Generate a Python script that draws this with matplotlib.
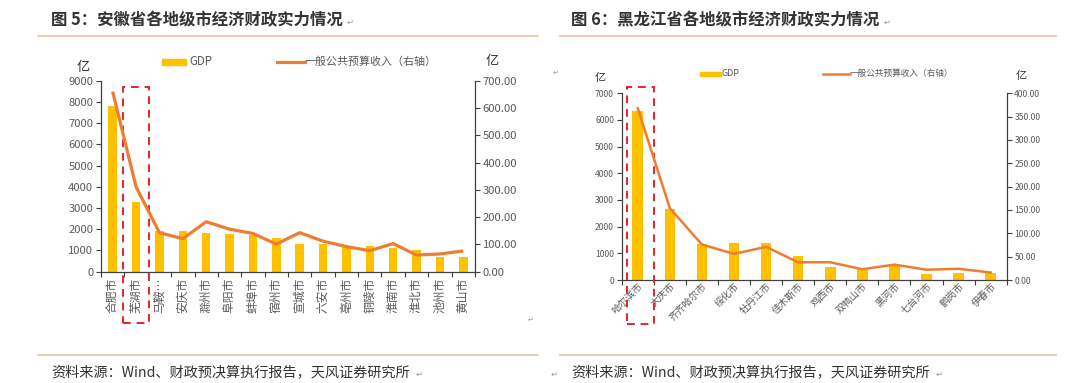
import matplotlib
matplotlib.use("Agg")
import matplotlib.pyplot as plt
from matplotlib.patches import Rectangle
from matplotlib.lines import Line2D
import matplotlib.transforms as mtransforms
import numpy as np

plt.rcParams['font.family'] = ['Noto Sans CJK SC', 'DejaVu Sans']

# ---------------- data ----------------
ah_cities = ['合肥市', '芜湖市', '马鞍…', '安庆市', '滁州市', '阜阳市', '蚌埠市', '宿州市',
             '宣城市', '六安市', '亳州市', '铜陵市', '淮南市', '淮北市', '池州市', '黄山市']
ah_gdp = [7822, 3270, 1900, 1916, 1806, 1760, 1728, 1602, 1304, 1288, 1194, 1209, 1131, 1005, 691, 675]
ah_rev = [660, 311, 143, 121, 183, 156, 140, 101, 143, 112, 92, 77, 103, 61, 65, 76]

hl_cities = ['哈尔滨市', '大庆市', '齐齐哈尔市', '绥化市', '牡丹江市', '佳木斯市', '鸡西市',
             '双鸭山市', '黑河市', '七台河市', '鹤岗市', '伊春市']
hl_gdp = [6350, 2662, 1350, 1375, 1400, 900, 500, 437, 580, 212, 275, 275]
hl_rev = [368, 154, 76, 56, 71, 38, 38, 23, 33, 22, 24, 16]

ah_left_ticks = [0, 1000, 2000, 3000, 4000, 5000, 6000, 7000, 8000, 9000]
ah_right_ticks = [0, 100, 200, 300, 400, 500, 600, 700]
hl_left_ticks = [0, 1000, 2000, 3000, 4000, 5000, 6000, 7000]
hl_right_ticks = [0, 50, 100, 150, 200, 250, 300, 350, 400]

BAR = '#FFC000'
LINE = '#ED7D31'
AX = '#404040'
TXT = '#595959'
RULE = '#E2C6A4'
W, H = 1080, 383

fig = plt.figure(figsize=(10.8, 3.83), dpi=100)


def fx(px):
    return px / W


def fy(py):
    return 1 - py / H


def style_axes(ax, ax2, fs):
    for a in (ax, ax2):
        a.spines['top'].set_visible(False)
        for s in ('left', 'right', 'bottom'):
            a.spines[s].set_color(AX)
            a.spines[s].set_linewidth(0.9)
    ax.spines['right'].set_visible(False)
    ax2.spines['left'].set_visible(False)
    ax2.spines['bottom'].set_visible(False)
    ax.tick_params(axis='y', direction='out', length=3.5, width=0.8, color=AX,
                   labelsize=fs, labelcolor=TXT, pad=2)
    ax2.tick_params(axis='y', direction='out', length=3.5, width=0.8, color=AX,
                    labelsize=fs, labelcolor=TXT, pad=2)
    ax.tick_params(axis='x', which='major', length=0, labelcolor=TXT, pad=4)
    ax.tick_params(axis='x', which='minor', direction='out', length=3.5, width=0.8, color=AX)


# ---------------- left chart: Anhui ----------------
ax1 = fig.add_axes([fx(101), fy(271.7), fx(475 - 101), (271.7 - 80.7) / H])
x1 = np.arange(len(ah_cities))
ax1.bar(x1, ah_gdp, width=0.36, color=BAR, zorder=2)
ax1.set_xlim(-0.5, len(ah_cities) - 0.5)
ax1.set_ylim(0, 9000)
ax1.set_yticks(ah_left_ticks)
ax1.set_xticks(x1)
ax1.set_xticklabels(ah_cities, rotation=90, fontsize=8.5, va='top', ha='center')
ax1.set_xticks(np.arange(-0.5, len(ah_cities)), minor=True)
ax1b = ax1.twinx()
ax1b.plot(x1, ah_rev, color=LINE, lw=2.3, zorder=3, solid_capstyle='butt')
ax1b.set_ylim(0, 700)
ax1b.set_yticks(ah_right_ticks)
ax1b.set_yticklabels([f'{v:.2f}' for v in ah_right_ticks])
style_axes(ax1, ax1b, 8.1)

# dashed highlight box
tr1 = mtransforms.blended_transform_factory(ax1.transData, ax1.transAxes)
ax1.add_patch(Rectangle((0.46, -0.267), 1.08, 0.969 + 0.267, transform=tr1, fill=False,
                        ec='#E3262A', lw=1.4, ls=(0, (4, 3)), clip_on=False, zorder=5))

# legend (left)
fig.patches.append(Rectangle((fx(162), fy(64.5)), fx(24), 5.5 / H, color=BAR, transform=fig.transFigure))
fig.text(fx(189), fy(61.5), 'GDP', fontsize=8.3, color=TXT, va='center', ha='left')
fig.lines.append(Line2D([fx(277), fx(305)], [fy(61.7), fy(61.7)], color=LINE, lw=2.3, transform=fig.transFigure))
fig.text(fx(305), fy(61.5), '一般公共预算收入（右轴）', fontsize=7.9, color=TXT, va='center', ha='left')
fig.text(fx(83), fy(67), '亿', fontsize=9.5, color='#333333', va='center', ha='center')
fig.text(fx(492), fy(62), '亿', fontsize=9.5, color='#333333', va='center', ha='center')

# ---------------- right chart: Heilongjiang ----------------
ax2 = fig.add_axes([fx(621.7), fy(280), fx(1006.7 - 621.7), (280 - 93.3) / H])
x2 = np.arange(len(hl_cities))
ax2.bar(x2, hl_gdp, width=0.33, color=BAR, zorder=2)
ax2.set_xlim(-0.5, len(hl_cities) - 0.5)
ax2.set_ylim(0, 7000)
ax2.set_yticks(hl_left_ticks)
ax2.set_xticks(x2)
ax2.set_xticklabels(hl_cities, rotation=45, fontsize=7, ha='right', va='top',
                    rotation_mode='anchor')
ax2.set_xticks(np.arange(-0.5, len(hl_cities)), minor=True)
ax2b = ax2.twinx()
ax2b.plot(x2, hl_rev, color=LINE, lw=1.8, zorder=3)
ax2b.set_ylim(0, 400)
ax2b.set_yticks(hl_right_ticks)
ax2b.set_yticklabels([f'{v:.2f}' for v in hl_right_ticks])
style_axes(ax2, ax2b, 6.2)
ax2.tick_params(axis='x', which='major', pad=1)

tr2 = mtransforms.blended_transform_factory(ax2.transData, ax2.transAxes)
ax2.add_patch(Rectangle((-0.345, -0.236), 0.85, 1.032 + 0.236, transform=tr2, fill=False,
                        ec='#E3262A', lw=1.4, ls=(0, (4, 3)), clip_on=False, zorder=5))

fig.patches.append(Rectangle((fx(700), fy(76)), fx(21), 4.5 / H, color=BAR, transform=fig.transFigure))
fig.text(fx(722), fy(73.8), 'GDP', fontsize=6.4, color=TXT, va='center', ha='left')
fig.lines.append(Line2D([fx(823), fx(850)], [fy(73.8), fy(73.8)], color=LINE, lw=1.8, transform=fig.transFigure))
fig.text(fx(850), fy(73.8), '一般公共预算收入（右轴）', fontsize=6.2, color=TXT, va='center', ha='left')
fig.text(fx(600), fy(78), '亿', fontsize=8, color='#333333', va='center', ha='center')
fig.text(fx(1021.7), fy(76), '亿', fontsize=8, color='#333333', va='center', ha='center')

# ---------------- titles, rules, sources ----------------
fig.text(fx(51), fy(20), '图 5：安徽省各地级市经济财政实力情况', fontsize=11.8, fontweight='bold',
         color='#333333', va='center', ha='left')
fig.text(fx(347), fy(22), '↵', fontsize=6, color='#999999', va='center', ha='left')
fig.text(fx(571), fy(20), '图 6：黑龙江省各地级市经济财政实力情况', fontsize=11.8, fontweight='bold',
         color='#333333', va='center', ha='left')
fig.text(fx(884), fy(22), '↵', fontsize=6, color='#999999', va='center', ha='left')

for x0, x1_ in ((38, 538), (560, 1056)):
    fig.lines.append(Line2D([fx(x0), fx(x1_)], [fy(36), fy(36)], color=RULE, lw=1.2, transform=fig.transFigure))
    fig.lines.append(Line2D([fx(x0), fx(x1_)], [fy(355), fy(355)], color=RULE, lw=1.2, transform=fig.transFigure))

fig.text(fx(51), fy(372), '资料来源：Wind、财政预决算执行报告，天风证券研究所', fontsize=10.2,
         color='#333333', va='center', ha='left')
fig.text(fx(416), fy(374), '↵', fontsize=6, color='#999999', va='center', ha='left')
fig.text(fx(571), fy(372), '资料来源：Wind、财政预决算执行报告，天风证券研究所', fontsize=10.2,
         color='#333333', va='center', ha='left')
fig.text(fx(936), fy(374), '↵', fontsize=6, color='#999999', va='center', ha='left')
fig.text(fx(551), fy(374), '↵', fontsize=6, color='#999999', va='center', ha='left')
fig.text(fx(553), fy(73), '↵', fontsize=5, color='#999999', va='center', ha='left')
fig.text(fx(528), fy(320), '↵', fontsize=5, color='#999999', va='center', ha='left')

fig.savefig('out.png', dpi=100)
